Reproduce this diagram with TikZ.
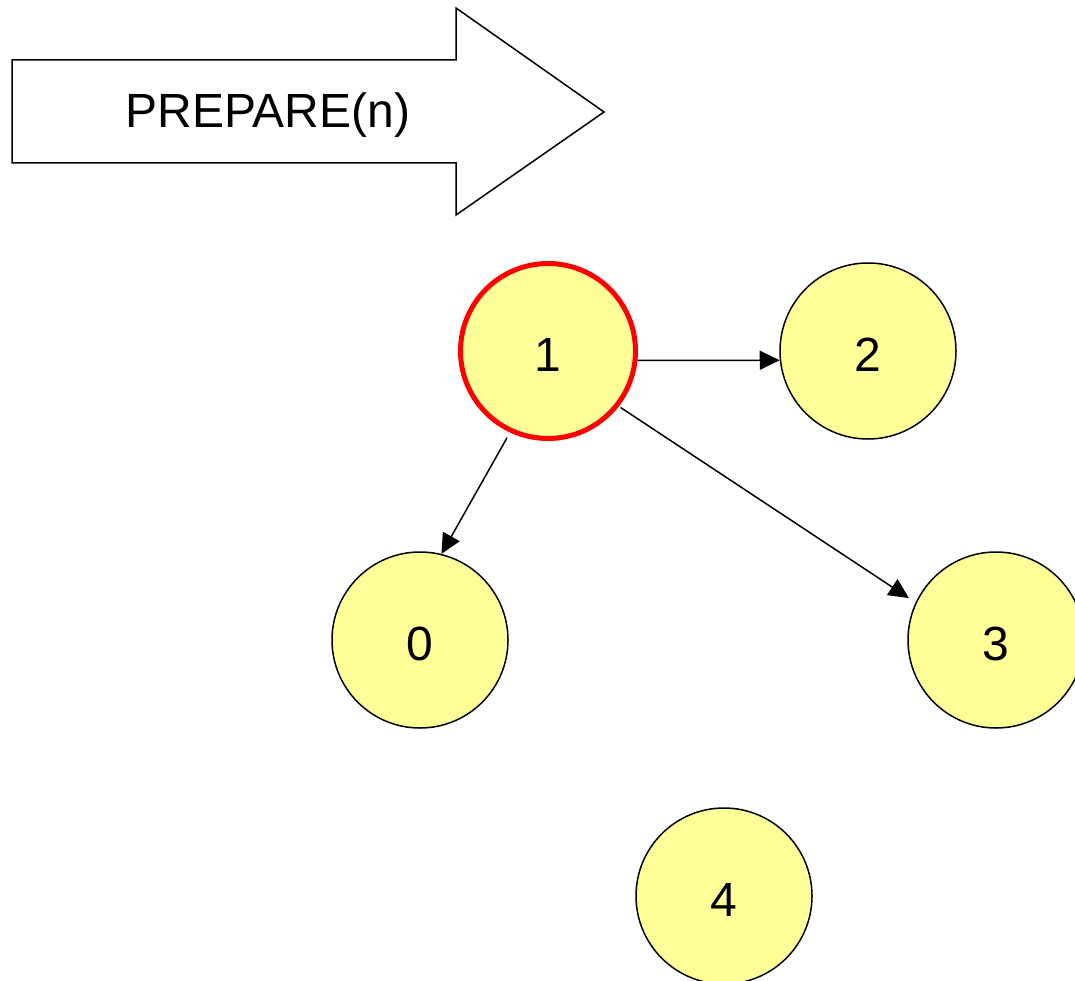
\documentclass[tikz,border=0pt]{standalone}
\usepackage{fontspec}
\setmainfont{Liberation Sans}
\usetikzlibrary{arrows.meta}
\definecolor{nodefill}{RGB}{255,255,153}
\definecolor{activered}{RGB}{255,0,0}
\begin{document}
\begin{tikzpicture}[x=1pt,y=-1pt,
  vertex/.style={circle,draw=black,line width=1.5pt,fill=nodefill,
    minimum size=176pt,inner sep=0pt,text height=40pt,text depth=0pt,
    font=\fontsize{48}{58}\selectfont},
  active/.style={draw=activered,line width=5pt,minimum size=175pt},
  link/.style={line width=1.5pt,-{Triangle[length=20pt,width=19pt]}},
  bigarrow/.style={draw=black,line width=1.5pt,fill=white,line join=miter}]
\useasboundingbox (0,0) rectangle (1075,981);
% operation banner
\draw[bigarrow] (12,60) -- (456,60) -- (456,8) -- (604,112) -- (456,215)
  -- (456,163) -- (12,163) -- cycle;
\node[font=\fontsize{48}{58}\selectfont] (op) at (268,115) {PREPARE(n)};
% processes
\node[vertex,active] (n1) at (548,351) {1};
\node[vertex] (n2) at (868,351) {2};
\node[vertex] (n0) at (420,640) {0};
\node[vertex] (n3) at (996,640) {3};
\node[vertex] (n4) at (724,896) {4};
% messages
\draw[link] (n1.-6) -- (n2.186);
\draw[link,shorten <=6pt] (n1.245) -- (n0.76);
\draw[link,shorten <=2pt,shorten >=8pt] (n1.-38) -- (n3.155);
\end{tikzpicture}
\end{document}
